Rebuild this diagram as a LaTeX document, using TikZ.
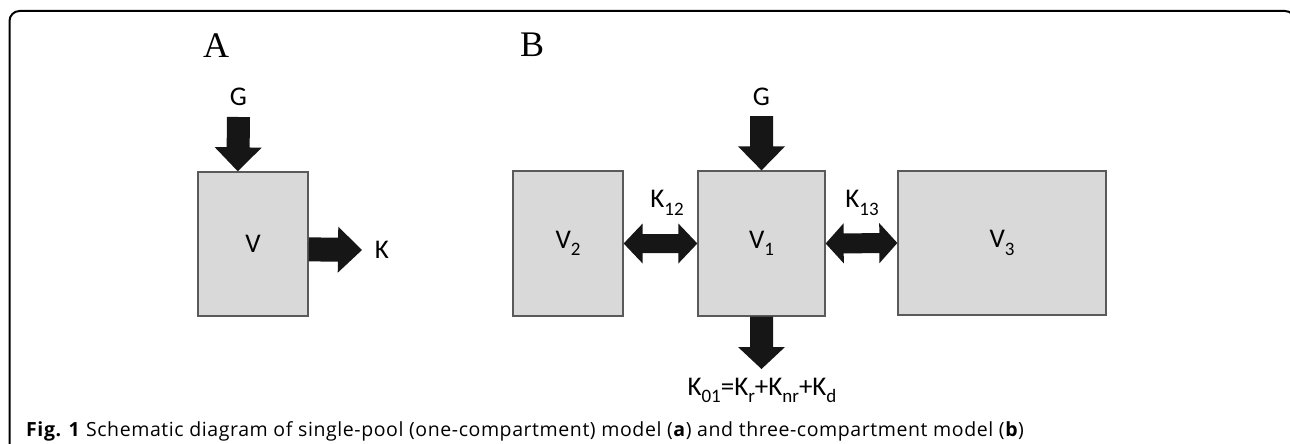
\documentclass[tikz,border=0pt]{standalone}
\usepackage{fontspec}
\setmainfont{Carlito}
\newfontfamily\serifA{Liberation Serif}
\newfontfamily\capfont[LetterSpace=3]{Open Sans}
\usetikzlibrary{calc}
\definecolor{boxfill}{HTML}{D9D9D9}
\definecolor{boxline}{HTML}{5A5A5A}
\definecolor{arrowcol}{HTML}{161616}
\newcommand\sbs[1]{\raisebox{-7.5pt}{\fontsize{19}{19}\selectfont #1}}
% single block arrow: #1 name, #2 start, #3 tip, #4 shaft half, #5 head half, #6 head length
\newcommand\blockarr[6]{%
  \coordinate (#1-hb) at ($(#3)!#6!(#2)$);
  \fill[blockfill] ($(#2)!#4!90:(#3)$) -- ($(#1-hb)!#4!90:(#3)$) -- ($(#1-hb)!#5!90:(#3)$)
    -- (#3) -- ($(#1-hb)!#5!-90:(#3)$) -- ($(#1-hb)!#4!-90:(#3)$) -- ($(#2)!#4!-90:(#3)$) -- cycle;}
% double block arrow
\newcommand\dblarr[6]{%
  \coordinate (#1-ha) at ($(#2)!#6!(#3)$);
  \coordinate (#1-hb) at ($(#3)!#6!(#2)$);
  \fill[blockfill] ($(#1-ha)!#4!90:(#3)$) -- ($(#1-hb)!#4!90:(#3)$) -- ($(#1-hb)!#5!90:(#3)$)
    -- (#3) -- ($(#1-hb)!#5!-90:(#3)$) -- ($(#1-hb)!#4!-90:(#3)$) -- ($(#1-ha)!#4!-90:(#3)$)
    -- ($(#1-ha)!#5!-90:(#3)$) -- (#2) -- ($(#1-ha)!#5!90:(#3)$) -- cycle;}
\begin{document}
\begin{tikzpicture}[x=1pt,y=-1pt,
  compbox/.style={draw=boxline, fill=boxfill, line width=1.3pt, inner sep=0pt, font=\fontsize{27}{27}\selectfont},
  lbl/.style={inner sep=0pt, font=\fontsize{27}{27}\selectfont},
  panel/.style={inner sep=0pt, font=\serifA\fontsize{36}{36}\selectfont},
  blockfill/.style={fill=arrowcol},
  frameline/.style={draw=black, line width=2pt, rounded corners=10pt}
]
\useasboundingbox (0,0) rectangle (1290,444);
\fill[white] (0,0) rectangle (1290,444);
\draw[frameline] (9.5,470) -- (9.5,11) -- (1295,11) -- (1295,470);

% panel labels
\node[panel] (labA) at (216,45.5) {A};
\node[panel] (labB) at (532,45) {B};

% panel A
\node[compbox, minimum width=110pt, minimum height=144pt] (Va) at (253,244) {V};
\coordinate (gAtop) at (238.5,117);
\coordinate (gAtip) at ($(Va.north west)+(40.5,0)$);
\blockarr{gA}{gAtop}{gAtip}{11.5pt}{23.5pt}{24pt}
\node[lbl] (GA) at (238.5,97) {G};
\coordinate (kAstart) at ($(Va.north east)+(0,78)$);
\coordinate (kAtip) at (362,250);
\blockarr{kA}{kAstart}{kAtip}{12pt}{23pt}{24pt}
\node[lbl] (KA) at (382,250) {K};

% panel B
\node[compbox, minimum width=110pt, minimum height=145pt] (V2) at (568,243.5) {V\sbs{2}};
\node[compbox, minimum width=127pt, minimum height=145pt] (V1) at (761.5,243.5) {V\sbs{1}};
\node[compbox, minimum width=208pt, minimum height=144pt] (V3) at (1002,243) {V\sbs{3}};

\coordinate (gBtop) at (761.5,116);
\blockarr{gB}{gBtop}{V1.north}{11.5pt}{23.5pt}{24pt}
\node[lbl] (GB) at (761.5,97) {G};

\dblarr{k12}{V2.east}{V1.west}{9.5pt}{20pt}{19pt}
\node[lbl] (K12) at (667,203) {K\sbs{12}};
\dblarr{k13}{V1.east}{V3.west}{10pt}{20pt}{18pt}
\node[lbl] (K13) at (862,203) {K\sbs{13}};

\coordinate (outtip) at (761.5,369);
\blockarr{out}{V1.south}{outtip}{11.5pt}{23.5pt}{22pt}
\node[lbl, anchor=base] (K01) at (762,395) {K\sbs{01}=K\sbs{r}+K\sbs{nr}+K\sbs{d}};

% caption
\node[anchor=base west, inner sep=0pt, font=\capfont\fontsize{19.5}{19.5}\selectfont] (cap) at (26,436)
  {\textbf{Fig. 1} Schematic diagram of single-pool (one-compartment) model (\textbf{a}) and three-compartment model (\textbf{b})};
\end{tikzpicture}
\end{document}
